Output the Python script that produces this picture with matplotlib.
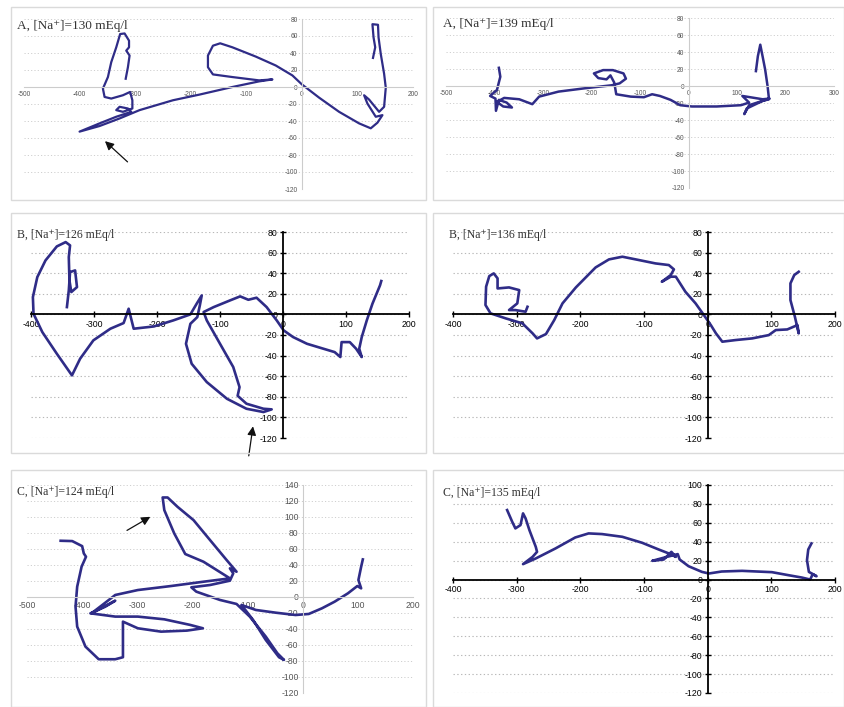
import matplotlib.pyplot as plt
from matplotlib.patches import Rectangle

plt.rcParams['axes.unicode_minus'] = False

W, H = 844, 707
LINE = '#2f2c87'

# A, [Na+]=130
a130_x = [-317, -313, -310, -316, -311, -311, -319, -327, -334, -343, -349, -358, -355, -343,
          -322, -309, -305, -305, -322, -334, -328, -313, -307, -334, -364, -400, -364, -328,
          -292, -232, -184, -125, -77, -53, -77, -125, -160, -169, -169, -160, -147, -125,
          -83, -47, -17, 0, 31, 67, 103, 124, 136, 145, 133, 118, 112, 121, 139, 148, 151,
          148, 142, 138, 137, 127, 129, 132, 128]
a130_y = [9.7, 23.3, 37.0, 42.8, 46.7, 54.5, 63.0, 62.3, 46.7, 29.2, 11.7, -1.9, -11.7, -13.6,
          -9.7, -5.8, -15.6, -25.3, -29.2, -27.2, -23.3, -25.3, -29.2, -35.0, -42.8, -52.5,
          -45.9, -37.0, -27.2, -15.6, -8.9, 0, 6.6, 8.9, 7.8, 11.7, 14.8, 23.3, 37.0, 48.6,
          51.4, 46.7, 35.8, 25.3, 13.6, 3.1, -12.5, -29.2, -42.8, -48.6, -42.0, -33.1, -35.0,
          -19.5, -9.7, -14.8, -29.2, -23.3, -0.8, 15.6, 38.9, 58.4, 73.2, 73.9, 58.4, 46.7, 34.2]

# A, [Na+]=139
a139_x = [-391, -388, -395, -409, -398, -397, -391, -375, -364, -382, -395, -380, -349, -322,
          -308, -268, -214, -159, -142, -129, -134, -156, -176, -195, -186, -169, -161, -153,
          -149, -119, -92, -75, -59, -37, -17, 7, 58, 108, 125, 111, 153, 167, 125, 115, 120,
          153, 166, 163, 158, 153, 148, 143, 139]
a139_y = [21.4, 10.9, -4.7, -11.7, -14.8, -29.2, -16.3, -19.5, -25.3, -24.1, -18.7, -14.0,
          -15.6, -21.4, -12.5, -6.6, -2.7, 0.8, 3.1, 8.6, 14.8, 18.7, 18.7, 14.8, 9.3, 7.8,
          12.5, 3.9, -9.7, -12.5, -13.2, -9.7, -11.7, -16.3, -22.6, -24.1, -24.1, -22.6,
          -19.5, -11.7, -15.6, -14.8, -22.6, -33.1, -26.5, -17.5, -15.6, 0, 19.5, 34.2, 48.6,
          35.0, 17.5]

# B, [Na+]=126
b126_x = [-343, -340, -338, -330, -327, -336, -339, -340, -338, -345, -359, -377, -390, -397,
          -396, -382, -359, -335, -322, -301, -274, -253, -245, -237, -205, -174, -147, -137,
          -129, -132, -136, -147, -154, -145, -121, -89, -58, -31, -18, -31, -58, -72, -69,
          -79, -100, -121, -126, -110, -84, -68, -55, -42, -26, -10, 1, 16, 38, 64, 82, 91,
          93, 106, 116, 125, 121, 125, 133, 142, 154, 156]
b126_y = [7.1, 23.3, 41.1, 42.7, 26.5, 21.7, 33.0, 55.7, 67.0, 70.2, 66.0, 52.4, 36.2, 16.8,
          0.6, -17.2, -38.2, -59.2, -43.0, -25.2, -13.9, -8.4, 5.5, -13.9, -11.7, -5.8, 0,
          10.4, 18.4, 8.7, -2.6, -9.1, -28.5, -47.9, -65.7, -81.9, -91.6, -94.8, -92.2, -91.6,
          -86.7, -79.0, -70.6, -51.1, -28.5, -5.8, 2.3, 7.1, 13.6, 17.5, 14.2, 16.2, 7.1,
          -5.8, -15.5, -22.0, -28.5, -33.3, -36.6, -41.4, -26.9, -26.9, -33.3, -41.4, -33.3,
          -22.0, -5.8, 10.4, 28.2, 32.4]

# B, [Na+]=136
b136_x = [-283, -286, -302, -312, -299, -296, -312, -330, -330, -336, -343, -348, -349, -341,
          -317, -291, -275, -268, -254, -241, -228, -207, -176, -155, -134, -113, -82, -61,
          -53, -58, -72, -58, -50, -35, -19, -6, 5, 13, 23, 44, 70, 96, 107, 125, 141, 143,
          137, 130, 130, 136, 143]
b136_y = [7.4, 2.6, 4.2, 4.2, 10.7, 23.6, 26.2, 25.2, 35.0, 39.8, 37.2, 26.9, 9.1, 1.0, -3.9,
          -8.7, -18.4, -23.3, -19.1, -5.5, 10.7, 26.2, 45.6, 53.4, 56.0, 53.4, 49.5, 47.9,
          43.7, 38.2, 31.7, 36.6, 36.6, 22.0, 10.7, -0.6, -10.4, -18.4, -26.5, -24.9, -23.3,
          -20.1, -15.2, -14.6, -10.4, -18.4, -2.3, 13.9, 30.1, 38.2, 41.4]

# C, [Na+]=124
c124_x = [-439, -418, -400, -397, -393, -401, -409, -412, -409, -394, -370, -340, -326, -326,
          -326, -299, -257, -210, -181, -204, -251, -299, -340, -385, -358, -340, -358, -383,
          -340, -299, -239, -180, -132, -180, -213, -233, -251, -254, -245, -227, -198, -168,
          -138, -120, -132, -126, -132, -168, -202, -193, -150, -120, -96, -67, -46, -34, -43,
          -67, -90, -111, -85, -49, -13, 11, 35, 58, 82, 99, 106, 101, 106, 109]
c124_y = [70.3, 69.9, 63.6, 54.5, 50.3, 37.9, 12.9, -12.1, -37.0, -62.0, -77.8, -77.8, -75.3,
          -53.7, -30.8, -39.1, -43.3, -42.0, -39.1, -34.9, -27.9, -24.5, -24.5, -20.4, -12.1,
          -4.6, -11.2, -20.4, 2.5, 8.7, 13.7, 19.1, 23.3, 44.1, 53.7, 79.5, 108.6, 124.4,
          124.4, 112.7, 96.1, 71.1, 46.2, 31.6, 35.8, 29.5, 20.4, 15.0, 12.1, 6.7, -3.7, -8.7,
          -24.5, -49.5, -70.3, -78.6, -75.3, -53.7, -28.7, -10.0, -16.2, -19.6, -22.5, -21.2,
          -14.1, -5.8, 4.6, 13.7, 10.8, 21.2, 37.9, 47.0]

# C, [Na+]=135
c135_x = [-315, -307, -302, -294, -290, -286, -280, -270, -268, -275, -290, -270, -239, -208,
          -187, -166, -134, -103, -77, -61, -50, -57, -69, -87, -64, -47, -44, -30, -9, 2, 22,
          54, 101, 127, 148, 161, 165, 171, 159, 156, 158, 163]
c135_y = [73.5, 61.1, 54.1, 57.6, 70.0, 64.7, 52.3, 34.6, 29.3, 24.0, 16.3, 22.3, 32.9, 44.5,
          48.8, 48.1, 45.2, 38.9, 31.8, 27.6, 24.0, 29.3, 21.2, 19.8, 24.0, 26.9, 21.2, 14.1,
          8.1, 6.4, 8.5, 9.2, 7.8, 4.6, 2.1, 0, 5.7, 3.5, 8.1, 20.5, 31.8, 38.2]

fig = plt.figure(figsize=(W / 100, H / 100), dpi=100)
fig.patch.set_facecolor('white')


def frame(x0, y0, x1, y1):
    fig.add_artist(Rectangle((x0 / W, 1 - y1 / H), (x1 - x0) / W, (y1 - y0) / H,
                             transform=fig.transFigure, fill=False, ec='#dadada', lw=1.0))


def panel(box, xlim, ylim, ystep, style, title, tpos, tsize):
    x0, y0, x1, y1 = box
    ax = fig.add_axes([x0 / W, 1 - y1 / H, (x1 - x0) / W, (y1 - y0) / H])
    ax.set_facecolor('none')
    ax.set_xlim(*xlim)
    ax.set_ylim(*ylim)
    ax.set_xticks(range(xlim[0], xlim[1] + 1, 100))
    ax.set_yticks(range(ylim[0], ylim[1] + 1, ystep))
    ax.spines['left'].set_position(('data', 0))
    ax.spines['bottom'].set_position(('data', 0))
    ax.spines['top'].set_visible(False)
    ax.spines['right'].set_visible(False)
    ax.set_axisbelow(True)
    if style == 'dark':
        ax.grid(axis='y', ls=(0, (1.2, 2.2)), color='#b8b8b8', lw=0.8)
        for s in ('left', 'bottom'):
            ax.spines[s].set_color('black')
            ax.spines[s].set_linewidth(1.3)
        ax.tick_params(direction='inout', length=5, width=1.0, labelsize=6.3,
                       colors='black', pad=1.5)
    else:
        ax.grid(axis='y', ls=(0, (1.2, 2.2)), color='#cfcfcf', lw=0.7)
        for s in ('left', 'bottom'):
            ax.spines[s].set_color('#cccccc')
            ax.spines[s].set_linewidth(0.8)
        size = 6.2 if style == 'mid' else 4.8
        ax.tick_params(length=0, labelsize=size, labelcolor='#555555', pad=3)
    for lab in ax.get_xticklabels() + ax.get_yticklabels():
        lab.set_family('Liberation Sans')
    fig.text(tpos[0] / W, 1 - tpos[1] / H, title, fontsize=tsize, va='center', ha='left',
             family=['Liberation Serif', 'DejaVu Serif'], color='#333333')
    return ax


frame(11, 7, 426, 200)
frame(433, 7, 844, 200)
frame(11, 213, 426, 453)
frame(433, 213, 844, 453)
frame(11, 470, 426, 707)
frame(433, 470, 844, 707)

ax1 = panel((24, 19, 413, 189), (-500, 200), (-120, 80), 20, 'light',
            'A, [Na⁺]=130 mEq/l', (17, 26), 9.5)
ax1.plot(a130_x, a130_y, color=LINE, lw=1.6, solid_joinstyle='round')
ax1.annotate('', xy=(-358, -61.5), xytext=(-310, -90.3),
             arrowprops=dict(arrowstyle='-|>', color='#111111', lw=0.9, mutation_scale=13))

ax2 = panel((446, 18, 834, 188), (-500, 300), (-120, 80), 20, 'light',
            'A, [Na⁺]=139 mEq/l', (443, 24), 9.5)
ax2.plot(a139_x, a139_y, color=LINE, lw=1.8, solid_joinstyle='round')

ax3 = panel((31, 232, 409, 438), (-400, 200), (-120, 80), 20, 'dark',
            'B, [Na⁺]=126 mEq/l', (17, 235), 8.5)
ax3.plot(b126_x, b126_y, color=LINE, lw=1.9, solid_joinstyle='round')
ax3.annotate('', xy=(-47, -106), xytext=(-55, -140), annotation_clip=False,
             arrowprops=dict(arrowstyle='-|>', color='#111111', lw=0.9, mutation_scale=13))

ax4 = panel((453, 232, 835, 438), (-400, 200), (-120, 80), 20, 'dark',
            'B, [Na⁺]=136 mEq/l', (449, 235), 8.5)
ax4.plot(b136_x, b136_y, color=LINE, lw=1.9, solid_joinstyle='round')

ax5 = panel((27, 485, 413, 693), (-500, 200), (-120, 140), 20, 'mid',
            'C, [Na⁺]=124 mEq/l', (17, 492), 8.5)
ax5.plot(c124_x, c124_y, color=LINE, lw=1.9, solid_joinstyle='round')
ax5.annotate('', xy=(-272, 102), xytext=(-323, 81.5),
             arrowprops=dict(arrowstyle='-|>', color='#111111', lw=0.9, mutation_scale=13))

ax6 = panel((453, 485, 835, 693), (-400, 200), (-120, 100), 20, 'dark',
            'C, [Na⁺]=135 mEq/l', (443, 493), 8.5)
ax6.plot(c135_x, c135_y, color=LINE, lw=1.9, solid_joinstyle='round')

fig.savefig('out.png', dpi=100, facecolor='white')
